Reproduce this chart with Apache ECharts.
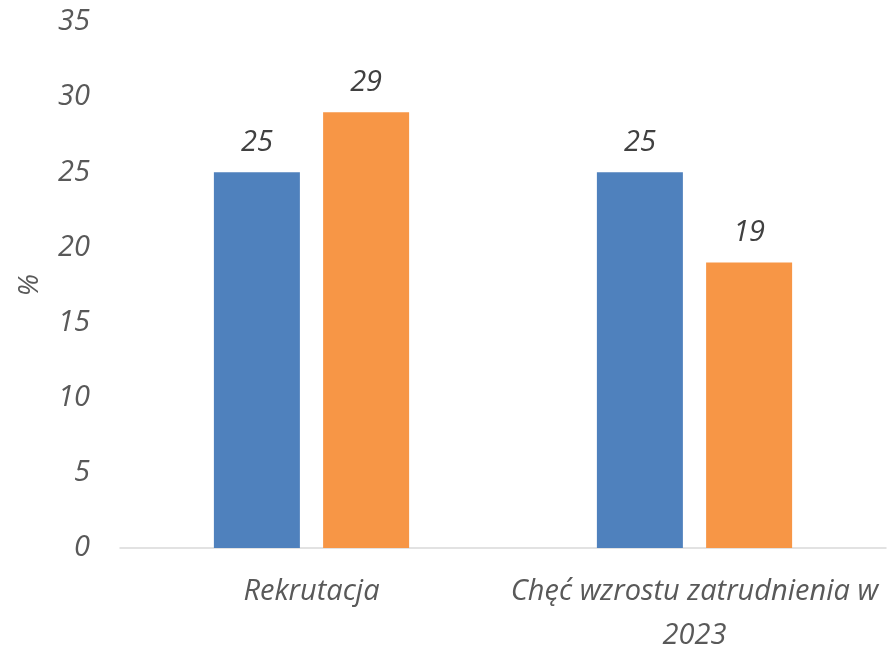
<!DOCTYPE html>
<html>
<head>
<meta charset="utf-8">
<script src="https://cdn.jsdelivr.net/npm/echarts@6/dist/echarts.min.js"></script>
<style>
  html, body { margin: 0; padding: 0; background: #fff; }
  #main { width: 887px; height: 647px; }
</style>
</head>
<body>
<div id="main"></div>
<script>
const categories = ['Rekrutacja', 'Chęć wzrostu zatrudnienia w\n2023']
const seriesA = [25, 25]
const seriesB = [29, 19]
const yTicks = { min: 0, max: 35, interval: 5 }

const font = 'Open Sans'
const chart = echarts.init(document.getElementById('main'))

const labelStyle = {
  show: true,
  position: 'top',
  distance: 15,
  fontFamily: font,
  fontStyle: 'italic',
  fontSize: 29,
  color: '#404040'
}

chart.setOption({
  animation: false,
  grid: { left: 120, right: 1, top: 22, bottom: 99, outerBoundsMode: 'none', containLabel: false },
  xAxis: {
    type: 'category',
    data: categories,
    axisLine: { lineStyle: { color: '#d9d9d9', width: 1.5 } },
    axisTick: { show: false },
    axisLabel: {
      interval: 0,
      hideOverlap: false,
      fontFamily: font,
      fontStyle: 'italic',
      fontSize: 29,
      color: '#595959',
      margin: 22,
      lineHeight: 44
    }
  },
  yAxis: {
    type: 'value',
    min: yTicks.min,
    max: yTicks.max,
    interval: yTicks.interval,
    name: '%',
    nameLocation: 'middle',
    nameGap: 76,
    nameTextStyle: { fontFamily: font, fontStyle: 'italic', fontSize: 28, color: '#595959' },
    splitLine: { show: false },
    axisLine: { show: false },
    axisTick: { show: false },
    axisLabel: {
      fontFamily: font,
      fontStyle: 'italic',
      fontSize: 29,
      color: '#595959',
      margin: 30
    }
  },
  series: [
    {
      type: 'bar',
      data: seriesA,
      barWidth: 86,
      barGap: '27%',
      itemStyle: { color: '#4f81bd' },
      label: labelStyle
    },
    {
      type: 'bar',
      data: seriesB,
      barWidth: 86,
      itemStyle: { color: '#f79646' },
      label: labelStyle
    }
  ]
})
</script>
</body>
</html>
